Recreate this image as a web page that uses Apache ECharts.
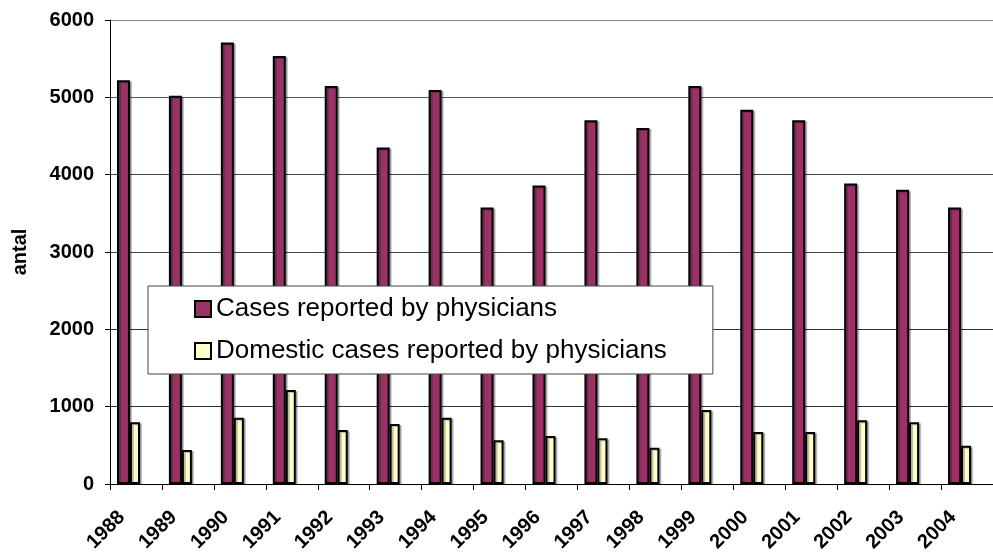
<!DOCTYPE html>
<html>
<head>
<meta charset="utf-8">
<script src="https://cdn.jsdelivr.net/npm/echarts@6/dist/echarts.min.js"></script>
<style>html,body{margin:0;padding:0;background:#fff}#c{width:993px;height:559px}</style>
</head>
<body>
<div id="c"></div>
<script>
var years = ['1988','1989','1990','1991','1992','1993','1994','1995','1996','1997','1998','1999','2000','2001','2002','2003','2004'];
var casesReported = [5220, 5020, 5710, 5535, 5145, 4350, 5095, 3575, 3860, 4705, 4605, 5145, 4840, 4705, 3885, 3805, 3575];
var domesticCases = [798, 440, 858, 1215, 698, 776, 858, 565, 621, 591, 470, 957, 672, 672, 823, 798, 495];
var yTicks = [0, 1000, 2000, 3000, 4000, 5000, 6000];
var seriesNames = ['Cases reported by physicians', 'Domestic cases reported by physicians'];

var chart = echarts.init(document.getElementById('c'));
var font = '"Liberation Sans", Arial, sans-serif';
chart.setOption({
  animation: false,
  textStyle: {fontFamily: font},
  grid: {left: 110, top: 20, width: 890, bottom: 75},
  legend: {
    data: seriesNames,
    orient: 'vertical',
    left: 148, top: 286,
    padding: [10, 46, 10, 46],
    icon: 'rect',
    itemWidth: 16, itemHeight: 16, itemGap: 16,
    backgroundColor: '#fff',
    borderColor: '#444', borderWidth: 1,
    textStyle: {fontFamily: font, fontSize: 26, color: '#000'},
    itemStyle: {borderColor: '#000', borderWidth: 2, shadowBlur: 0, shadowOffsetX: 0}
  },
  xAxis: {
    type: 'category',
    data: years,
    axisLine: {lineStyle: {color: '#000', width: 1}},
    axisTick: {show: true, length: 6, lineStyle: {color: '#000'}},
    axisLabel: {rotate: 45, margin: 16, padding: [0, 20, 0, 0], color: '#000', fontWeight: 'bold', fontSize: 20, fontFamily: font, interval: 0}
  },
  yAxis: {
    type: 'value',
    min: yTicks[0], max: yTicks[yTicks.length - 1], interval: 1000,
    name: 'antal',
    nameLocation: 'middle', nameGap: 80, nameRotate: 90,
    nameTextStyle: {color: '#000', fontWeight: 'bold', fontSize: 20, fontFamily: font},
    axisLine: {show: true, lineStyle: {color: '#000', width: 1}},
    axisTick: {show: true, length: 5, lineStyle: {color: '#000'}},
    axisLabel: {color: '#000', fontWeight: 'bold', fontSize: 20, fontFamily: font, margin: 16,
      formatter: function (v) { return String(v); }},
    splitLine: {lineStyle: {color: ['#555', '#333', '#333', '#444', '#444', '#555', '#8a8a8a'], width: 1.2}}
  },
  series: [
    {name: seriesNames[0], type: 'bar', data: casesReported, barWidth: 13, barGap: '0%',
     itemStyle: {color: '#993366', borderColor: '#000', borderWidth: 2,
       shadowColor: 'rgba(0,0,0,0.25)', shadowOffsetX: 2, shadowOffsetY: 1, shadowBlur: 0}},
    {name: seriesNames[1], type: 'bar', data: domesticCases, barWidth: 10, barGap: '0%',
     itemStyle: {color: '#FFFFCC', borderColor: '#000', borderWidth: 2,
       shadowColor: 'rgba(0,0,0,0.25)', shadowOffsetX: 2, shadowOffsetY: 1, shadowBlur: 0}},
    {name: 'spacer', type: 'bar', data: [], barWidth: 15, barGap: '0%', silent: true}
  ]
});
</script>
</body>
</html>
